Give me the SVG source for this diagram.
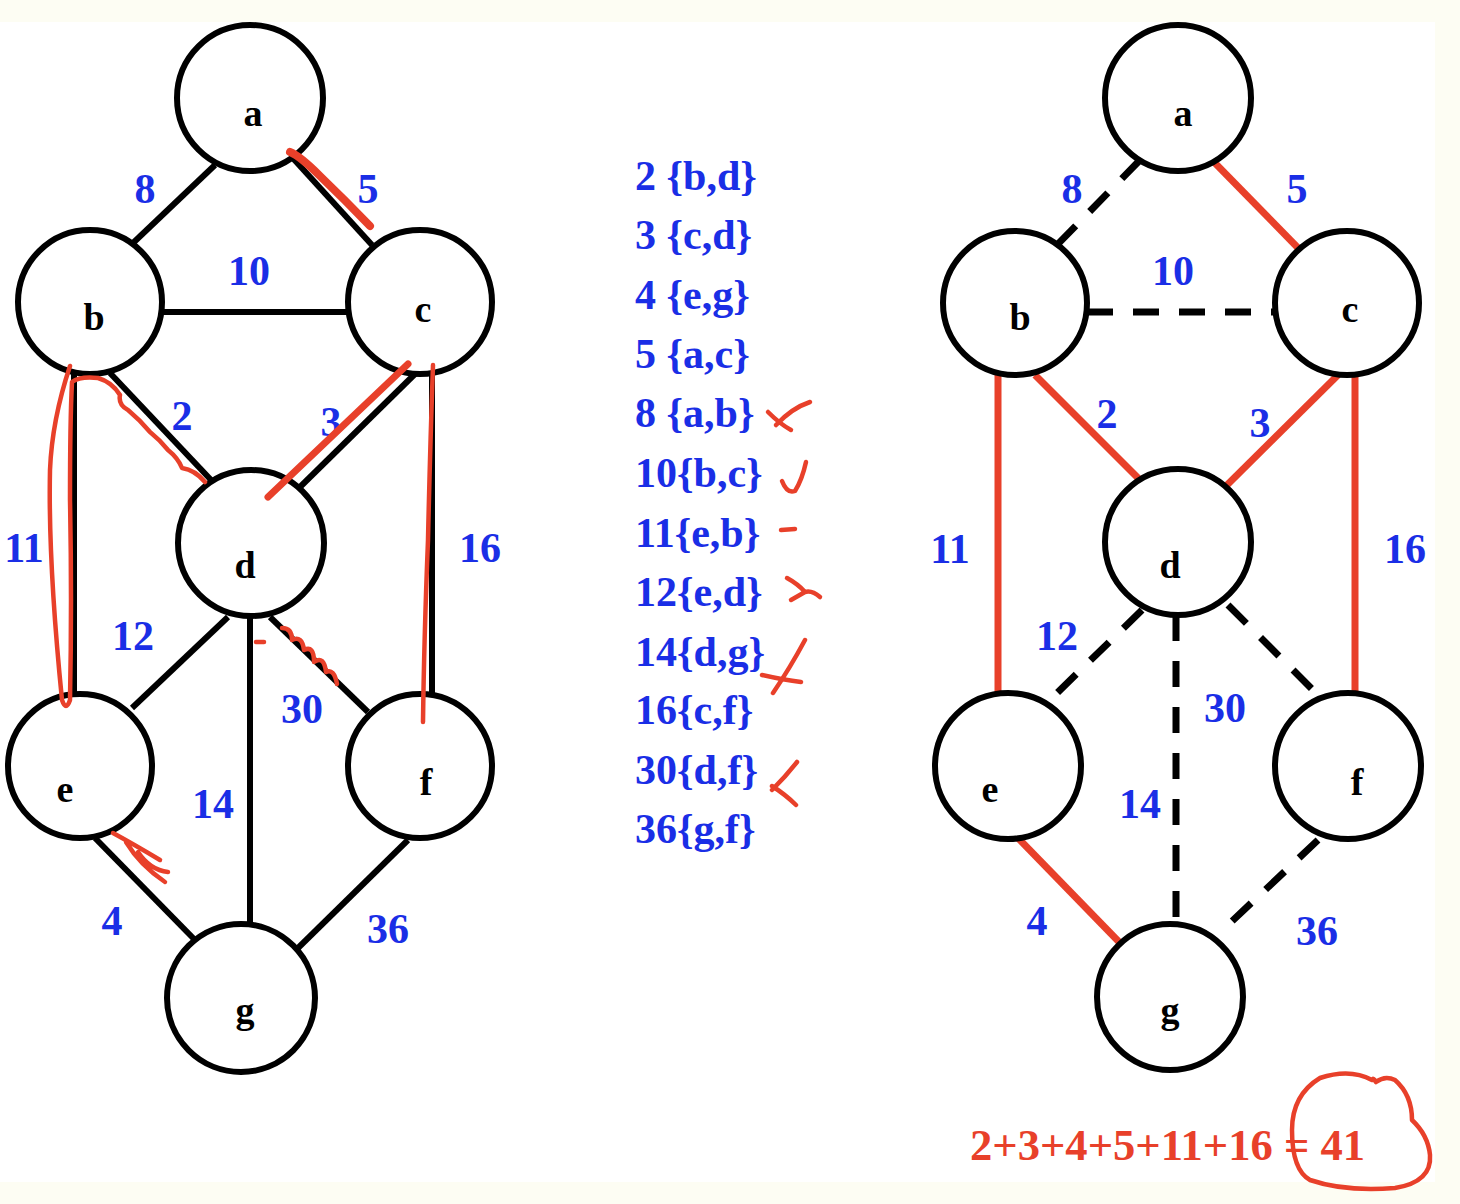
<svg xmlns="http://www.w3.org/2000/svg" width="1460" height="1204" viewBox="0 0 1460 1204">
<style>
.node{fill:#fff;stroke:#000;stroke-width:6}
.nl{font-family:"Liberation Serif",serif;font-weight:bold;font-size:38px;fill:#000;text-anchor:middle}
.el{font-family:"Liberation Serif",serif;font-weight:bold;font-size:42px;fill:#1a2ee6;text-anchor:middle}
.li{font-family:"Liberation Serif",serif;font-weight:bold;font-size:42px;fill:#1a2ee6}
.e{stroke:#000;stroke-width:6;fill:none}
.d{stroke:#000;stroke-width:7;fill:none;stroke-dasharray:26 20}
.m{stroke:#e8402a;stroke-width:7;fill:none}
.h{stroke:#e8402a;stroke-width:4.5;fill:none;stroke-linecap:round;stroke-linejoin:round}
.hw{stroke:#e8402a;stroke-width:8;fill:none;stroke-linecap:round;stroke-linejoin:round}
.sum{font-family:"Liberation Serif",serif;font-weight:bold;font-size:44px;fill:#e8402a}
</style>
<rect width="1460" height="1204" fill="#fdfdf3"/>
<rect x="0" y="22" width="1435" height="1160" fill="#ffffff"/>

<!-- LEFT GRAPH -->
<g id="left-connectors">
<line class="e" x1="215" y1="165" x2="133" y2="243"/>
<line class="e" x1="290" y1="155" x2="372" y2="245"/>
<line class="e" x1="163" y1="312" x2="347" y2="312"/>
<line class="e" x1="110" y1="373" x2="212" y2="481"/>
<line class="e" x1="417" y1="372" x2="300" y2="487"/>
<line class="e" x1="74" y1="372" x2="74" y2="696"/>
<line class="e" x1="432" y1="372" x2="432" y2="696"/>
<line class="e" x1="228" y1="617" x2="132" y2="708"/>
<line class="e" x1="250" y1="617" x2="250" y2="925"/>
<line class="e" x1="270" y1="617" x2="368" y2="712"/>
<line class="e" x1="95" y1="838" x2="195" y2="940"/>
<line class="e" x1="408" y1="840" x2="298" y2="948"/>
</g>
<g id="left-a"><circle class="node" cx="250" cy="98" r="73"/><text class="nl" x="253" y="126">a</text></g>
<g id="left-b"><circle class="node" cx="90" cy="302" r="72"/><text class="nl" x="94" y="330">b</text></g>
<g id="left-c"><circle class="node" cx="420" cy="302" r="72"/><text class="nl" x="423" y="322">c</text></g>
<g id="left-d"><circle class="node" cx="251" cy="543" r="73"/><text class="nl" x="245" y="578">d</text></g>
<g id="left-e"><circle class="node" cx="80" cy="766" r="72"/><text class="nl" x="65" y="802">e</text></g>
<g id="left-f"><circle class="node" cx="420" cy="766" r="72"/><text class="nl" x="426" y="795">f</text></g>
<g id="left-g"><circle class="node" cx="241" cy="998" r="74"/><text class="nl" x="245" y="1023">g</text></g>
<g id="left-labels">
<text class="el" x="145" y="203">8</text>
<text class="el" x="368" y="203">5</text>
<text class="el" x="249" y="285">10</text>
<text class="el" x="182" y="430">2</text>
<text class="el" x="331" y="436">3</text>
<text class="el" x="24" y="562">11</text>
<text class="el" x="480" y="562">16</text>
<text class="el" x="133" y="650">12</text>
<text class="el" x="302" y="723">30</text>
<text class="el" x="213" y="818">14</text>
<text class="el" x="112" y="935">4</text>
<text class="el" x="388" y="943">36</text>
</g>
<g id="left-annotations">
<path class="hw" d="M290,152 Q300,156 320,176 Q345,200 370,226"/>
<path class="h" d="M70,366 Q52,420 50,470 Q48,560 62,700 Q66,712 70,700 Q72,600 70,500 Q70,420 72,382 Q80,376 98,378 Q112,382 120,395 Q118,405 128,410 Q140,420 150,432 Q160,440 168,450 Q178,458 182,468 Q195,470 205,482"/>
<path class="hw" style="stroke-width:7" d="M408,364 L268,497"/>
<path class="h" d="M433,365 Q430,450 428,540 Q424,640 423,722"/>
<path class="h" d="M256,642 L264,642"/>
<path class="h" d="M282,628 Q292,628 292,640 Q302,635 304,650 Q314,645 314,662 Q324,655 326,672 Q334,668 337,684"/>
<path class="h" d="M113,833 Q135,845 160,860 M126,842 Q140,865 165,882 M138,852 Q150,870 168,872"/>
</g>

<!-- MIDDLE LIST -->
<g id="edge-list">
<text class="li" x="635" y="190">2 {b,d}</text>
<text class="li" x="635" y="249">3 {c,d}</text>
<text class="li" x="635" y="309">4 {e,g}</text>
<text class="li" x="635" y="368">5 {a,c}</text>
<text class="li" x="635" y="427">8 {a,b}</text>
<text class="li" x="635" y="487">10{b,c}</text>
<text class="li" x="635" y="547">11{e,b}</text>
<text class="li" x="635" y="606">12{e,d}</text>
<text class="li" x="635" y="666">14{d,g}</text>
<text class="li" x="635" y="724">16{c,f}</text>
<text class="li" x="635" y="784">30{d,f}</text>
<text class="li" x="635" y="843">36{g,f}</text>
</g>
<g id="list-marks">
<path class="h" d="M810,402 Q792,408 776,425 M768,412 Q780,424 791,430"/>
<path class="h" d="M782,481 Q787,494 795,491 Q802,480 806,462"/>
<path class="h" d="M781,530 L795,529"/>
<path class="h" d="M787,578 Q798,584 805,592 Q812,590 820,597 M791,600 Q798,596 805,592"/>
<path class="h" d="M805,640 Q790,668 773,693 M762,675 Q784,680 801,682"/>
<path class="h" d="M797,762 Q786,776 772,790 M772,786 Q786,795 796,805"/>
</g>

<!-- RIGHT GRAPH -->
<g id="right-connectors">
<line class="d" x1="1140" y1="160" x2="1057" y2="245"/>
<line class="m" x1="1212" y1="160" x2="1302" y2="252"/>
<line class="d" x1="1087" y1="312" x2="1274" y2="312"/>
<line class="m" x1="1035" y1="375" x2="1142" y2="482"/>
<line class="m" x1="1338" y1="375" x2="1222" y2="490"/>
<line class="m" x1="998" y1="368" x2="998" y2="696"/>
<line class="m" x1="1355" y1="372" x2="1355" y2="696"/>
<line class="d" x1="1142" y1="610" x2="1055" y2="695"/>
<line class="d" x1="1176" y1="615" x2="1176" y2="925"/>
<line class="d" x1="1228" y1="605" x2="1318" y2="695"/>
<line class="m" x1="1018" y1="838" x2="1122" y2="945"/>
<line class="d" x1="1318" y1="840" x2="1228" y2="925"/>
</g>
<g id="right-a"><circle class="node" cx="1178" cy="98" r="73"/><text class="nl" x="1183" y="126">a</text></g>
<g id="right-b"><circle class="node" cx="1015" cy="303" r="72"/><text class="nl" x="1020" y="330">b</text></g>
<g id="right-c"><circle class="node" cx="1347" cy="303" r="72"/><text class="nl" x="1350" y="322">c</text></g>
<g id="right-d"><circle class="node" cx="1178" cy="542" r="73"/><text class="nl" x="1170" y="578">d</text></g>
<g id="right-e"><circle class="node" cx="1008" cy="766" r="73"/><text class="nl" x="990" y="802">e</text></g>
<g id="right-f"><circle class="node" cx="1348" cy="766" r="73"/><text class="nl" x="1357" y="795">f</text></g>
<g id="right-g"><circle class="node" cx="1170" cy="997" r="73"/><text class="nl" x="1170" y="1023">g</text></g>
<g id="right-labels">
<text class="el" x="1072" y="203">8</text>
<text class="el" x="1297" y="203">5</text>
<text class="el" x="1173" y="285">10</text>
<text class="el" x="1107" y="428">2</text>
<text class="el" x="1260" y="437">3</text>
<text class="el" x="950" y="563">11</text>
<text class="el" x="1405" y="563">16</text>
<text class="el" x="1057" y="650">12</text>
<text class="el" x="1225" y="722">30</text>
<text class="el" x="1140" y="818">14</text>
<text class="el" x="1037" y="935">4</text>
<text class="el" x="1317" y="945">36</text>
</g>
<g id="total">
<text class="sum" x="970" y="1160" textLength="395" lengthAdjust="spacingAndGlyphs">2+3+4+5+11+16 = 41</text>
<path class="h" d="M1372,1080 Q1350,1068 1320,1078 Q1292,1095 1292,1130 Q1292,1170 1310,1180 Q1345,1192 1395,1188 Q1432,1182 1430,1155 Q1428,1135 1412,1120 Q1412,1095 1395,1080 Q1385,1075 1376,1082 Q1373,1077 1372,1080"/>
</g>
</svg>
